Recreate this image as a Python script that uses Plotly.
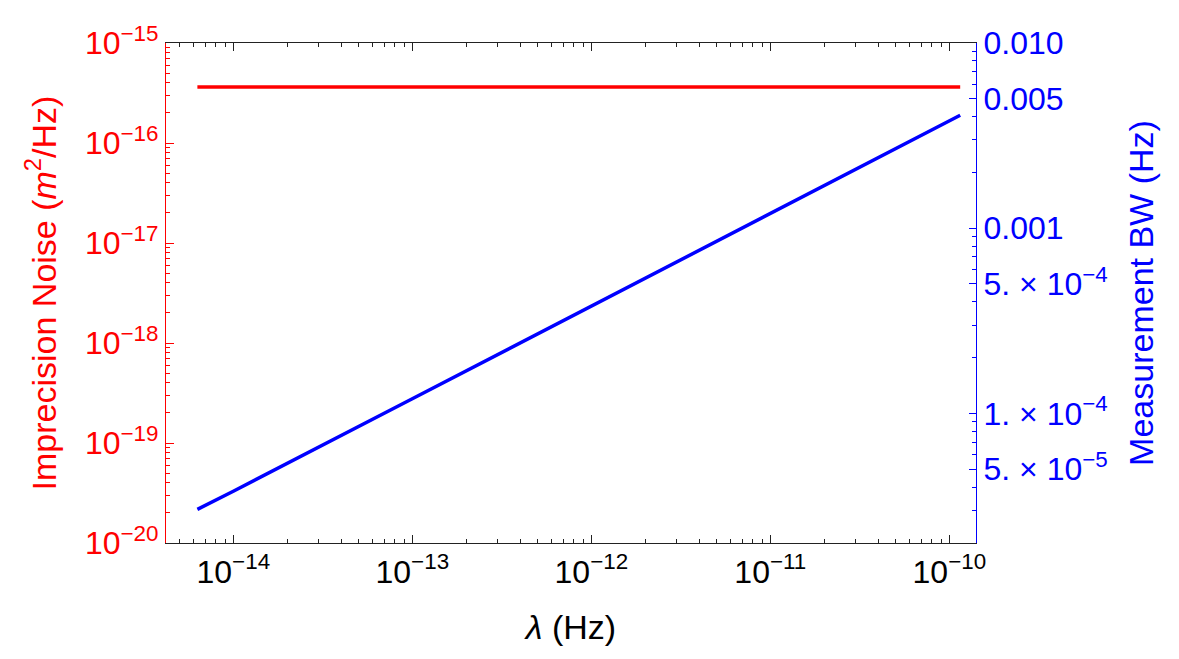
import plotly.graph_objects as go

# ---- data ----
lam = [6.3e-15, 1e-14, 1e-13, 1e-12, 1e-11, 1e-10, 1.15e-10]
noise = [3.63e-16, 3.63e-16, 3.63e-16, 3.63e-16, 3.63e-16, 3.63e-16, 3.63e-16]
bw = [3.03e-5, 3.80e-5, 1.20e-4, 3.80e-4, 1.20e-3, 3.80e-3, 4.07e-3]

x_tickvals = [1e-14, 1e-13, 1e-12, 1e-11, 1e-10]
x_ticktext = ["10<sup>−14</sup>", "10<sup>−13</sup>", "10<sup>−12</sup>",
              "10<sup>−11</sup>", "10<sup>−10</sup>"]
y_tickvals = [1e-20, 1e-19, 1e-18, 1e-17, 1e-16, 1e-15]
y_ticktext = ["10<sup>−20</sup>", "10<sup>−19</sup>", "10<sup>−18</sup>",
              "10<sup>−17</sup>", "10<sup>−16</sup>", "10<sup>−15</sup>"]
y2_tickvals = [5e-5, 1e-4, 5e-4, 1e-3, 5e-3, 1e-2]
y2_ticktext = ["5. × 10<sup>−5</sup>", "1. × 10<sup>−4</sup>", "5. × 10<sup>−4</sup>",
               "0.001", "0.005", "0.010"]

def minor_vals(lo, hi, skip=()):
    out = []
    for e in range(lo, hi):
        for m in range(2, 10):
            if m in skip:
                continue
            out.append(m * 10.0 ** e)
    return out

FONT = "Arial, 'Liberation Sans', sans-serif"
RED = "#ff0000"
BLUE = "#0000ff"

fig = go.Figure()
fig.add_trace(go.Scatter(x=lam, y=noise, mode="lines",
                         line=dict(color=RED, width=3.5), yaxis="y",
                         showlegend=False))
fig.add_trace(go.Scatter(x=lam, y=bw, mode="lines",
                         line=dict(color=BLUE, width=3.5), yaxis="y2",
                         showlegend=False))

fig.update_layout(
    width=1179, height=659,
    margin=dict(l=166, r=203, t=43, b=116),
    paper_bgcolor="white", plot_bgcolor="white",
    font=dict(family=FONT, size=32, color="black"),
    xaxis=dict(
        type="log", range=[-14.376, -9.851],
        tickmode="array", tickvals=x_tickvals, ticktext=x_ticktext,
        ticks="inside", ticklen=8, tickwidth=1, tickcolor="#222",
        showline=True, linecolor="#222", linewidth=1.2, mirror="ticks",
        showgrid=False, zeroline=False,
        tickfont=dict(size=32, color="black"),
        minor=dict(tickmode="array", tickvals=minor_vals(-15, -9),
                   ticks="inside", ticklen=4, tickcolor="#222", showgrid=False),
        title=dict(text="<i>λ</i> (Hz)", font=dict(size=34, color="black"),
                   standoff=26),
    ),
    yaxis=dict(
        type="log", range=[-20, -15],
        tickmode="array", tickvals=y_tickvals, ticktext=y_ticktext,
        ticks="inside", ticklen=8, tickwidth=1, tickcolor=RED,
        showline=True, linecolor=RED, linewidth=1.2,
        showgrid=False, zeroline=False,
        tickfont=dict(size=32, color=RED),
        minor=dict(tickmode="array", tickvals=minor_vals(-20, -15),
                   ticks="inside", ticklen=4, tickcolor=RED, showgrid=False),
        title=dict(text="Imprecision Noise (<i>m</i><sup>2</sup>/Hz)",
                   font=dict(size=34, color=RED), standoff=18),
    ),
    yaxis2=dict(
        type="log", range=[-4.70, -2.0], overlaying="y", side="right",
        tickmode="array", tickvals=y2_tickvals, ticktext=y2_ticktext,
        ticks="inside", ticklen=7, tickwidth=1, tickcolor=BLUE,
        showline=True, linecolor=BLUE, linewidth=1.2,
        showgrid=False, zeroline=False,
        tickfont=dict(size=32, color=BLUE),
        minor=dict(tickmode="array", tickvals=minor_vals(-5, -2, skip=(5,)),
                   ticks="inside", ticklen=4, tickcolor=BLUE, showgrid=False),
        title=dict(text="Measurement BW (Hz)",
                   font=dict(size=34, color=BLUE), standoff=22),
    ),
)

fig.write_html("out.html")
